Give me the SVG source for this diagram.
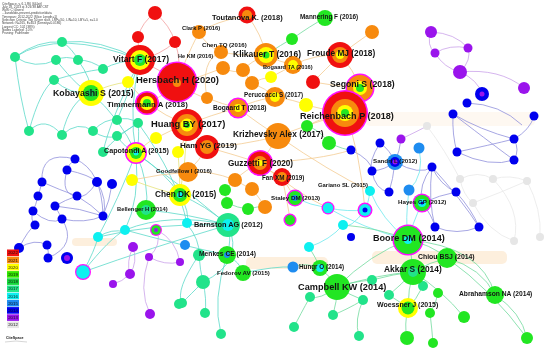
<svg xmlns="http://www.w3.org/2000/svg" width="550" height="353" viewBox="0 0 550 353">
<style>
.e{fill:none;stroke-width:0.8}
.tq{stroke:#5cd9c9}.lv{stroke:#9090dc}.pk{stroke:#f2a0a0}.or{stroke:#f4cc92}.pu{stroke:#caa2ea}.gy{stroke:#e8e8e8}.gn{stroke:#72da9e}.yl{stroke:#e6e27a}.cy{stroke:#6ee8ee}
.R{fill:#f01010}.O{fill:#f78a0e}.Y{fill:#ffff00}.G{fill:#22e622}.S{fill:#22e38a}.C{fill:#0ef0f0}.D{fill:#1e8cf0}.B{fill:#0000ee}.P{fill:#9a14ec}.K{fill:#e6e6e6}.M{fill:#ff10ff}.DG{fill:#14c050}
text{font-family:"Liberation Sans",Arial,sans-serif;font-weight:bold;fill:#141414}
.h{font-weight:normal;font-size:3.2px;fill:#444}
.lg{font-weight:normal;font-size:4.3px;fill:#111;text-anchor:middle}
</style>
<rect width="550" height="353" fill="#fff"/>
<g id="bands" fill="#fbe2c2" opacity="0.55">
<rect x="372" y="251" width="135" height="13" rx="5"/>
<rect x="246" y="257" width="82" height="12" rx="5"/>
<rect x="72" y="238" width="45" height="8" rx="4"/>
<rect x="365" y="112" width="170" height="14" rx="5" opacity="0.4"/>
</g>
<g id="header">
<text class="h" x="2" y="4.5">CiteSpace, v. 6.1.R6 (64-bit)</text>
<text class="h" x="2" y="7.8">July 18, 2023 at 3:26:38 AM CST</text>
<text class="h" x="2" y="11.1">WoS: C:\Users\</text>
<text class="h" x="2" y="14.4">...\landslide-prevent-prediction\data</text>
<text class="h" x="2" y="17.7">Timespan: 2012-2022 (Slice Length=1)</text>
<text class="h" x="2" y="21">Selection Criteria: Top 50 per slice, LRF=3.0, L/N=10, LBY=5, e=1.0</text>
<text class="h" x="2" y="24.3">Network: N=265, E=653 (Density=0.0186)</text>
<text class="h" x="2" y="27.6">Largest CC: 102 (38%)</text>
<text class="h" x="2" y="30.9">Nodes Labeled: 1.0%</text>
<text class="h" x="2" y="34.2">Pruning: Pathfinder</text>
</g>
<g id="connectors">
<path class="e pk" d="M155,13 Q142,22 138,37 M155,13 Q170,25 175,42 M138,37 Q138,50 140,60 M175,42 Q160,55 140,60 M175,42 Q182,62 177,82 M140,60 Q160,70 177,82"/>
<path class="e tq" d="M15,57 Q38,40 62,42 M15,57 Q35,70 56,60 M62,42 Q72,48 78,60 M56,60 Q66,55 78,60 M78,60 Q92,60 103,69 M54,80 Q80,72 103,69 M54,80 Q70,95 91,93 M15,57 Q60,28 140,60 M62,42 Q100,38 140,60 M103,69 Q120,60 140,60 M56,60 Q80,90 91,93 M78,60 Q92,80 91,93 M15,57 Q20,100 29,131 M29,131 Q45,115 62,135 M62,135 Q78,120 93,131 M93,131 Q105,118 117,120 M93,131 Q105,140 117,136 M117,120 Q128,116 138,123 M117,136 Q128,130 138,123 M103,152 Q118,135 138,123 M29,131 Q40,90 54,80 M62,135 Q70,100 91,93 M138,123 Q140,140 136,153 M117,136 Q125,148 136,153 M91,93 Q120,118 136,153 M140,60 Q128,110 136,153 M136,153 Q150,185 146,210 M136,153 Q165,172 180,195 M136,153 Q185,188 228,225 M136,153 Q140,200 125,230 M136,153 Q118,200 98,237 M138,123 Q178,178 187,224 M180,195 Q205,205 228,225 M180,195 Q190,212 187,224 M146,210 Q190,214 228,225 M125,230 Q170,212 228,225 M98,237 Q160,222 228,225 M125,230 Q180,245 227,255 M187,224 Q200,240 199,255 M228,225 Q232,240 227,255 M227,255 Q240,262 243,273 M199,255 Q200,270 203,282 M203,282 Q190,295 182,303 M203,282 Q207,300 205,313 M227,255 Q212,300 221,334 M228,225 Q245,262 203,282 M199,255 Q175,290 182,303 M243,273 Q275,266 293,267 M83,272 Q95,250 98,237 M83,272 Q110,238 125,230 M83,272 Q150,248 228,225 M98,237 Q112,228 125,232 M140,60 Q110,120 103,152 M117,120 Q128,95 140,60"/>
<path class="e lv" d="M75,159 Q68,165 67,170 M67,170 Q90,175 97,182 M67,170 Q60,195 77,196 M42,182 Q60,190 77,196 M42,182 Q40,190 38,196 M38,196 Q36,205 33,211 M77,196 Q65,200 55,206 M55,206 Q60,215 62,219 M77,196 Q92,205 103,216 M97,182 Q108,200 103,216 M112,184 Q110,200 103,216 M55,206 Q80,208 103,216 M62,219 Q85,224 103,216 M33,211 Q50,226 62,219 M75,159 Q102,170 103,216 M33,211 Q30,220 35,225 M19,248 Q35,238 47,245 M19,248 Q28,230 35,225 M47,245 Q49,252 48,258 M62,219 Q78,245 48,258 M75,159 Q40,150 42,182 M97,182 Q85,200 77,196"/>
<path class="e lv" d="M453,114 Q480,130 514,139 M534,116 Q530,130 514,139 M453,114 Q452,135 457,152 M457,152 Q490,145 514,139 M457,152 Q490,168 514,160 M514,139 Q520,150 514,160 M453,114 Q500,150 514,160 M467,103 Q500,104 522,125 M432,167 Q440,185 456,192 M432,167 Q418,185 422,203 M422,203 Q440,195 456,192 M432,167 Q428,200 435,227 M432,167 Q462,200 479,227 M456,192 Q472,210 479,227 M422,203 Q432,215 435,227 M435,227 Q457,236 479,227 M380,143 Q390,150 395,162 M395,162 Q385,170 372,171 M395,162 Q393,180 389,192 M380,143 Q368,162 372,171 M401,139 Q400,150 395,162 M351,150 Q372,160 372,171 M395,162 Q420,176 432,167 M372,171 Q375,190 389,192"/>
<path class="e pu" d="M431,32 Q455,33 468,48 M435,53 Q450,44 468,48 M431,32 Q426,45 435,53 M435,53 Q444,68 460,72 M468,48 Q472,60 460,72 M460,72 Q500,68 524,88 M460,72 Q478,80 482,94 M133,247 Q138,262 130,274 M130,274 Q122,282 113,284 M133,247 Q126,262 130,274 M149,257 Q165,266 180,262 M149,257 Q138,290 150,314 M157,230 Q162,245 149,257 M157,230 Q176,240 180,262 M401,139 Q420,130 427,126"/>
<path class="e gy" d="M460,179 Q478,170 493,179 M493,179 Q510,174 527,181 M460,179 Q463,195 473,203 M473,203 Q502,192 527,181 M493,179 Q522,210 514,241 M527,181 Q542,210 540,237 M473,203 Q488,232 514,241 M427,126 Q445,150 460,179"/>
<path class="e or" d="M199,32 Q215,22 247,15 M247,15 Q262,35 266,55 M199,32 Q205,45 221,52 M221,52 Q240,56 266,55 M266,55 Q280,62 293,65 M266,55 Q250,62 243,70 M223,68 Q235,74 243,70 M243,70 Q248,78 252,83 M252,83 Q262,78 271,77 M271,77 Q285,70 293,65 M293,65 Q315,54 340,55 M313,82 Q325,70 340,55 M340,55 Q360,40 372,32 M340,55 Q354,70 360,88 M313,82 Q335,86 360,88 M275,97 Q295,100 306,105 M306,105 Q325,110 345,113 M360,88 Q356,100 345,113 M275,97 Q265,88 252,83 M238,108 Q255,100 275,97 M207,98 Q222,104 238,108 M187,125 Q210,115 238,108 M177,82 Q195,96 207,98 M177,82 Q200,78 223,68 M187,125 Q195,138 207,147 M207,147 Q240,146 278,136 M278,136 Q310,124 345,113 M238,108 Q260,125 278,136 M278,136 Q270,150 260,163 M260,163 Q270,172 282,177 M260,163 Q245,170 235,180 M235,180 Q245,186 252,189 M252,189 Q261,200 265,207 M282,177 Q290,190 295,198 M188,172 Q200,160 207,147 M188,172 Q210,170 235,180 M207,147 Q235,155 260,163 M345,113 Q325,116 307,126 M147,103 Q165,116 187,125 M177,82 Q165,96 147,103 M128,82 Q140,96 147,103 M156,138 Q170,130 187,125 M178,152 Q186,140 187,125 M132,180 Q160,174 188,172 M260,163 Q320,160 351,150 M278,136 Q330,172 370,191 M221,52 Q200,60 207,98 M199,32 Q185,60 177,82 M345,113 Q360,150 365,210 M260,163 Q300,195 328,208 M282,177 Q288,205 290,220"/>
<path class="e yl" d="M91,93 Q110,84 128,82 M180,195 Q186,160 187,125 M132,180 Q158,190 180,195 M136,153 Q150,140 156,138 M178,152 Q180,175 180,195"/>
<path class="e gn" d="M292,39 Q310,26 325,18 M266,55 Q282,44 292,39 M307,126 Q320,130 329,143 M329,143 Q345,150 351,150 M225,190 Q226,197 227,203 M227,203 Q238,208 248,209 M225,190 Q230,184 235,180 M248,209 Q258,206 265,207"/>
<path class="e cy" d="M419,148 Q425,175 409,190 M409,190 Q405,220 408,240 M370,191 Q368,205 365,210 M328,208 Q348,212 365,210 M295,198 Q310,205 328,208 M343,225 Q330,240 309,247 M365,210 Q350,230 343,225 M370,191 Q382,220 408,240 M328,208 Q362,228 408,240 M422,203 Q412,225 408,240"/>
<path class="e gn" d="M293,267 Q305,262 320,268 M320,268 Q330,276 337,287 M309,247 Q316,258 320,268 M337,287 Q320,300 310,297 M310,297 Q300,315 294,327 M337,287 Q337,302 333,315 M337,287 Q350,295 363,300 M363,300 Q354,320 359,336 M333,315 Q346,310 363,300 M337,287 Q380,274 413,272 M372,280 Q394,274 413,272 M389,295 Q402,284 413,272 M413,272 Q421,280 423,286 M408,240 Q412,256 413,272 M408,240 Q430,244 447,258 M413,272 Q430,262 447,258 M413,272 Q408,290 408,308 M389,295 Q400,302 408,308 M423,286 Q416,300 408,308 M408,308 Q404,325 407,338 M430,313 Q432,330 433,343 M438,293 Q436,305 430,313 M413,272 Q442,290 464,317 M447,258 Q482,268 495,295 M408,240 Q482,246 495,295 M495,295 Q521,312 527,338 M447,258 Q492,290 527,338 M343,225 Q380,228 408,240 M337,287 Q370,254 408,240 M372,280 Q350,282 337,287"/>
</g>
<g id="n_r1"><circle class="R" cx="155" cy="13" r="7"/></g>
<g id="n_r2"><circle class="R" cx="138" cy="37" r="6"/></g>
<g id="n_r3"><circle class="R" cx="175" cy="42" r="6"/></g>
<g id="n_s1"><circle class="S" cx="15" cy="57" r="5"/></g>
<g id="n_s2"><circle class="S" cx="62" cy="42" r="5"/></g>
<g id="n_s3"><circle class="S" cx="56" cy="60" r="5"/></g>
<g id="n_s4"><circle class="S" cx="78" cy="60" r="5"/></g>
<g id="n_s5"><circle class="S" cx="103" cy="69" r="5"/></g>
<g id="n_s6"><circle class="S" cx="54" cy="80" r="5"/></g>
<g id="n_s7"><circle class="S" cx="117" cy="120" r="5"/></g>
<g id="n_s8"><circle class="S" cx="29" cy="131" r="5"/></g>
<g id="n_s9"><circle class="S" cx="62" cy="135" r="5"/></g>
<g id="n_s10"><circle class="S" cx="93" cy="131" r="5"/></g>
<g id="n_s11"><circle class="S" cx="117" cy="136" r="5"/></g>
<g id="n_s12"><circle class="S" cx="138" cy="123" r="5"/></g>
<g id="n_s13"><circle class="S" cx="103" cy="152" r="5"/></g>
<g id="n_y1"><circle class="Y" cx="128" cy="82" r="6"/></g>
<g id="n_y2"><circle class="Y" cx="156" cy="138" r="6"/></g>
<g id="n_y3"><circle class="Y" cx="178" cy="152" r="6"/></g>
<g id="n_y4"><circle class="Y" cx="132" cy="180" r="6"/></g>
<g id="n_o1"><circle class="O" cx="199" cy="32" r="7"/></g>
<g id="n_o2"><circle class="O" cx="221" cy="52" r="7"/></g>
<g id="n_o3"><circle class="O" cx="223" cy="68" r="7"/></g>
<g id="n_o4"><circle class="O" cx="243" cy="70" r="7"/></g>
<g id="n_o5"><circle class="O" cx="252" cy="83" r="7"/></g>
<g id="n_o6"><circle class="O" cx="207" cy="98" r="6"/></g>
<g id="n_o7"><circle class="O" cx="372" cy="32" r="7"/></g>
<g id="n_o8"><circle class="O" cx="235" cy="180" r="7"/></g>
<g id="n_o9"><circle class="O" cx="252" cy="189" r="7"/></g>
<g id="n_o10"><circle class="O" cx="265" cy="207" r="7"/></g>
<g id="n_y5"><circle class="Y" cx="271" cy="77" r="6"/></g>
<g id="n_y6"><circle class="Y" cx="306" cy="105" r="7"/></g>
<g id="n_r4"><circle class="R" cx="313" cy="82" r="7"/></g>
<g id="n_g1"><circle class="G" cx="292" cy="39" r="6"/></g>
<g id="n_g2"><circle class="G" cx="307" cy="126" r="6"/></g>
<g id="n_g3"><circle class="G" cx="329" cy="143" r="7"/></g>
<g id="n_g4"><circle class="G" cx="225" cy="190" r="6"/></g>
<g id="n_g5"><circle class="G" cx="227" cy="203" r="6"/></g>
<g id="n_g6"><circle class="G" cx="248" cy="209" r="6"/></g>
<g id="n_m1"><circle class="M" cx="290" cy="220" r="6.5"/><circle class="G" cx="290" cy="220" r="5"/></g>
<g id="n_m2"><circle class="M" cx="328" cy="208" r="6.5"/><circle class="C" cx="328" cy="208" r="5.2"/></g>
<g id="n_m3"><circle class="M" cx="365" cy="210" r="7.5"/><circle class="C" cx="365" cy="210" r="6"/><circle class="B" cx="365" cy="210" r="2.5"/></g>
<g id="n_c1"><circle class="C" cx="370" cy="191" r="5"/></g>
<g id="n_b1"><circle class="B" cx="351" cy="150" r="4.5"/></g>
<g id="n_b2"><circle class="B" cx="380" cy="143" r="4.5"/></g>
<g id="n_p1"><circle class="P" cx="401" cy="139" r="4.5"/></g>
<g id="n_d1"><circle class="D" cx="419" cy="148" r="5.5"/></g>
<g id="n_b3"><circle class="B" cx="372" cy="171" r="4.5"/></g>
<g id="n_b4"><circle class="B" cx="432" cy="167" r="4.5"/></g>
<g id="n_b5"><circle class="B" cx="456" cy="192" r="4.5"/></g>
<g id="n_b6"><circle class="B" cx="389" cy="192" r="4.5"/></g>
<g id="n_d2"><circle class="D" cx="409" cy="190" r="5.5"/></g>
<g id="n_b7"><circle class="B" cx="435" cy="227" r="4.5"/></g>
<g id="n_b8"><circle class="B" cx="479" cy="227" r="4.5"/></g>
<g id="n_p2"><circle class="P" cx="431" cy="32" r="6"/></g>
<g id="n_p3"><circle class="P" cx="435" cy="53" r="4.5"/></g>
<g id="n_p4"><circle class="P" cx="468" cy="48" r="4.5"/></g>
<g id="n_p5"><circle class="P" cx="460" cy="72" r="7"/></g>
<g id="n_p6"><circle class="P" cx="524" cy="88" r="6"/></g>
<g id="n_bp1"><circle class="B" cx="482" cy="94" r="7"/><circle class="P" cx="482" cy="94" r="2.5"/></g>
<g id="n_b9"><circle class="B" cx="467" cy="103" r="4.5"/></g>
<g id="n_b10"><circle class="B" cx="453" cy="114" r="4.5"/></g>
<g id="n_b11"><circle class="B" cx="534" cy="116" r="4.5"/></g>
<g id="n_b12"><circle class="B" cx="514" cy="139" r="4.5"/></g>
<g id="n_b13"><circle class="B" cx="457" cy="152" r="4.5"/></g>
<g id="n_b14"><circle class="B" cx="514" cy="160" r="4.5"/></g>
<g id="n_k1"><circle class="K" cx="427" cy="126" r="4"/></g>
<g id="n_k2"><circle class="K" cx="460" cy="179" r="4"/></g>
<g id="n_k3"><circle class="K" cx="493" cy="179" r="4"/></g>
<g id="n_k4"><circle class="K" cx="527" cy="181" r="4"/></g>
<g id="n_k5"><circle class="K" cx="473" cy="203" r="4"/></g>
<g id="n_k6"><circle class="K" cx="514" cy="241" r="4"/></g>
<g id="n_k7"><circle class="K" cx="540" cy="237" r="4"/></g>
<g id="n_lb1"><circle class="B" cx="75" cy="159" r="4.5"/></g>
<g id="n_lb2"><circle class="B" cx="67" cy="170" r="4.5"/></g>
<g id="n_lb3"><circle class="B" cx="42" cy="182" r="4.5"/></g>
<g id="n_lb4"><circle class="B" cx="97" cy="182" r="5"/></g>
<g id="n_lb5"><circle class="B" cx="112" cy="184" r="5"/></g>
<g id="n_lb6"><circle class="B" cx="38" cy="196" r="4.5"/></g>
<g id="n_lb7"><circle class="B" cx="77" cy="196" r="4.5"/></g>
<g id="n_lb8"><circle class="B" cx="55" cy="206" r="4.5"/></g>
<g id="n_lb9"><circle class="B" cx="33" cy="211" r="4.5"/></g>
<g id="n_lb10"><circle class="B" cx="62" cy="219" r="4.5"/></g>
<g id="n_lb11"><circle class="B" cx="103" cy="216" r="4.5"/></g>
<g id="n_lb12"><circle class="B" cx="35" cy="225" r="4.5"/></g>
<g id="n_lb13"><circle class="B" cx="19" cy="248" r="5"/></g>
<g id="n_lb14"><circle class="B" cx="47" cy="245" r="4.5"/></g>
<g id="n_lb15"><circle class="B" cx="48" cy="258" r="4.5"/></g>
<g id="n_lb16"><circle class="B" cx="67" cy="258" r="6"/><circle class="P" cx="67" cy="258" r="3"/></g>
<g id="n_c2"><circle class="C" cx="187" cy="223" r="5"/></g>
<g id="n_c3"><circle class="C" cx="125" cy="230" r="5"/></g>
<g id="n_m4"><circle class="M" cx="156" cy="230" r="6"/><circle class="G" cx="156" cy="230" r="4.8"/><circle class="P" cx="156" cy="230" r="2"/></g>
<g id="n_c4"><circle class="C" cx="98" cy="237" r="5"/></g>
<g id="n_m5"><circle class="M" cx="83" cy="272" r="8"/><circle class="C" cx="83" cy="272" r="6.8"/></g>
<g id="n_d3"><circle class="D" cx="185" cy="245" r="5"/></g>
<g id="n_pp1"><circle class="P" cx="133" cy="247" r="5"/></g>
<g id="n_pp2"><circle class="P" cx="149" cy="257" r="4"/></g>
<g id="n_pp3"><circle class="P" cx="180" cy="262" r="4"/></g>
<g id="n_pp4"><circle class="P" cx="130" cy="274" r="5"/></g>
<g id="n_pp5"><circle class="P" cx="113" cy="284" r="4"/></g>
<g id="n_pp6"><circle class="P" cx="150" cy="314" r="5"/></g>
<g id="n_s14"><circle class="S" cx="179" cy="304" r="5"/></g>
<g id="n_s15"><circle class="S" cx="199" cy="255" r="6"/></g>
<g id="n_s16"><circle class="S" cx="203" cy="282" r="7"/></g>
<g id="n_s17"><circle class="S" cx="182" cy="303" r="5"/></g>
<g id="n_s18"><circle class="S" cx="205" cy="313" r="5"/></g>
<g id="n_s19"><circle class="S" cx="221" cy="334" r="5"/></g>
<g id="n_gc1"><circle class="G" cx="320" cy="268" r="8"/><circle class="C" cx="320" cy="268" r="4"/></g>
<g id="n_c5"><circle class="C" cx="309" cy="247" r="5"/></g>
<g id="n_c6"><circle class="C" cx="343" cy="225" r="5"/></g>
<g id="n_b15"><circle class="B" cx="351" cy="237" r="4"/></g>
<g id="n_s20"><circle class="S" cx="310" cy="297" r="5"/></g>
<g id="n_s21"><circle class="S" cx="294" cy="327" r="5"/></g>
<g id="n_s22"><circle class="S" cx="333" cy="315" r="5"/></g>
<g id="n_s23"><circle class="S" cx="363" cy="300" r="5"/></g>
<g id="n_s24"><circle class="S" cx="359" cy="336" r="5"/></g>
<g id="n_s25"><circle class="S" cx="423" cy="286" r="5"/></g>
<g id="n_s26"><circle class="S" cx="389" cy="295" r="5"/></g>
<g id="n_s27"><circle class="S" cx="372" cy="280" r="5"/></g>
<g id="n_g7"><circle class="G" cx="438" cy="293" r="5"/></g>
<g id="n_g8"><circle class="G" cx="430" cy="313" r="5"/></g>
<g id="n_g9"><circle class="G" cx="464" cy="317" r="6"/></g>
<g id="n_g10"><circle class="G" cx="407" cy="338" r="7"/></g>
<g id="n_g11"><circle class="G" cx="433" cy="343" r="5"/></g>
<g id="n_g12"><circle class="G" cx="527" cy="338" r="6"/></g>
<g id="vitart"><circle class="R" cx="140" cy="60" r="15"/><circle class="Y" cx="140" cy="60" r="10"/><circle class="G" cx="140" cy="60" r="6"/><circle class="S" cx="140" cy="60" r="3"/><text x="113" y="62" font-size="8.5">Vitart F (2017)</text></g>
<g id="hersbach"><circle class="M" cx="177" cy="82" r="20.5"/><circle class="R" cx="177" cy="82" r="19"/><circle class="O" cx="177" cy="83" r="4"/><text x="136" y="83" font-size="9.5">Hersbach H (2020)</text></g>
<g id="kobayashi"><circle class="Y" cx="91" cy="93" r="13"/><circle class="G" cx="91" cy="93" r="8"/><circle class="DG" cx="91" cy="93" r="4"/><text x="53" y="96" font-size="8.8">Kobayashi S (2015)</text></g>
<g id="timmermann"><circle class="M" cx="147" cy="103" r="12"/><circle class="R" cx="147" cy="103" r="10.5"/><circle class="Y" cx="147" cy="103" r="7"/><circle class="G" cx="147" cy="103" r="4"/><text x="107" y="107" font-size="7.8">Timmermann A (2018)</text></g>
<g id="huang"><circle class="R" cx="187" cy="125" r="16"/><circle class="O" cx="187" cy="125" r="11"/><circle class="Y" cx="187" cy="125" r="6.5"/><circle class="G" cx="187" cy="125" r="3"/><text x="151" y="127" font-size="9.4">Huang BY (2017)</text></g>
<g id="ham"><circle class="R" cx="207" cy="147" r="12"/><circle class="O" cx="207" cy="147" r="7"/><text x="180" y="148" font-size="8.1">Ham YG (2019)</text></g>
<g id="capotondi"><circle class="M" cx="136" cy="153" r="11"/><circle class="Y" cx="136" cy="153" r="9.5"/><circle class="G" cx="136" cy="153" r="6"/><circle class="C" cx="136" cy="153" r="2.5"/><text x="104" y="153" font-size="7.2">Capotondi A (2015)</text></g>
<g id="goodfellow"><circle class="O" cx="188" cy="172" r="10"/><text x="156" y="173" font-size="6.1">Goodfellow I (2016)</text></g>
<g id="chendk"><circle class="Y" cx="180" cy="195" r="11"/><circle class="G" cx="180" cy="195" r="7"/><circle class="C" cx="180" cy="195" r="3"/><text x="155" y="197" font-size="8.3">Chen DK (2015)</text></g>
<g id="toutanova"><circle class="R" cx="247" cy="15" r="8.5"/><circle class="O" cx="247" cy="15" r="5"/><text x="212" y="20" font-size="7.5">Toutanova K. (2018)</text></g>
<g id="mannering"><circle class="G" cx="325" cy="18" r="8"/><text x="300" y="19" font-size="6.4">Mannering F (2016)</text></g>
<g id="clark"><text x="182" y="30" font-size="5.8">Clark P (2016)</text></g>
<g id="chentq"><text x="202" y="47" font-size="6.1">Chen TQ (2016)</text></g>
<g id="hekm"><text x="178" y="58" font-size="5.6">He KM (2016)</text></g>
<g id="klikauer"><circle class="O" cx="266" cy="55" r="12"/><circle class="Y" cx="266" cy="55" r="8"/><circle class="G" cx="266" cy="55" r="3.5"/><text x="233" y="57" font-size="8.5">Klikauer T (2016)</text></g>
<g id="froude"><circle class="R" cx="340" cy="55" r="13"/><circle class="O" cx="340" cy="55" r="8"/><circle class="Y" cx="340" cy="55" r="4"/><text x="307" y="56" font-size="8.3">Froude MJ (2018)</text></g>
<g id="bogaardta"><circle class="O" cx="293" cy="65" r="9"/><circle class="Y" cx="293" cy="65" r="5"/><text x="263" y="69" font-size="5.7">Bogaard TA (2016)</text></g>
<g id="segoni"><circle class="M" cx="360" cy="88" r="14.5"/><circle class="O" cx="360" cy="88" r="13"/><circle class="Y" cx="360" cy="88" r="7"/><circle class="G" cx="360" cy="88" r="4"/><text x="330" y="87" font-size="8.7">Segoni S (2018)</text></g>
<g id="peruccacci"><circle class="O" cx="275" cy="97" r="10"/><circle class="Y" cx="275" cy="97" r="5"/><text x="244" y="97" font-size="6.3">Peruccacci S (2017)</text></g>
<g id="bogaardt"><circle class="M" cx="238" cy="108" r="10.5"/><circle class="O" cx="238" cy="108" r="9"/><circle class="Y" cx="238" cy="108" r="4"/><text x="213" y="110" font-size="6.6">Bogaard T (2018)</text></g>
<g id="reichenbach"><circle class="M" cx="345" cy="113" r="23"/><circle class="R" cx="345" cy="113" r="21.5"/><circle class="O" cx="345" cy="113" r="14"/><circle class="Y" cx="345" cy="113" r="8"/><circle class="G" cx="345" cy="113" r="4"/><text x="300" y="119" font-size="9.1">Reichenbach P (2018)</text></g>
<g id="krizhevsky"><circle class="O" cx="278" cy="136" r="13"/><text x="233" y="137" font-size="8.4">Krizhevsky Alex (2017)</text></g>
<g id="guzzetti"><circle class="M" cx="260" cy="163" r="13"/><circle class="R" cx="260" cy="163" r="11.5"/><circle class="O" cx="260" cy="163" r="7"/><circle class="Y" cx="260" cy="163" r="3"/><text x="228" y="166" font-size="8.2">Guzzetti F (2020)</text></g>
<g id="fanxm"><circle class="R" cx="282" cy="177" r="9"/><circle class="O" cx="282" cy="177" r="5"/><text x="262" y="180" font-size="6.3">Fan XM (2019)</text></g>
<g id="staley"><circle class="M" cx="295" cy="198" r="8.5"/><circle class="G" cx="295" cy="198" r="7"/><circle class="D" cx="295" cy="198" r="3"/><text x="271" y="200" font-size="6.2">Staley DM (2013)</text></g>
<g id="gariano"><text x="318" y="187" font-size="5.9">Gariano SL (2015)</text></g>
<g id="sandri"><circle class="D" cx="395" cy="162" r="8"/><circle class="B" cx="395" cy="162" r="5"/><circle class="P" cx="395" cy="162" r="2.5"/><text x="373" y="163" font-size="6.2">Sandri L (2012)</text></g>
<g id="hayes"><circle class="M" cx="422" cy="203" r="9.5"/><circle class="G" cx="422" cy="203" r="8"/><circle class="C" cx="422" cy="203" r="4"/><circle class="B" cx="422" cy="203" r="1.5"/><text x="398" y="204" font-size="6.2">Hayes GP (2012)</text></g>
<g id="bellenger"><circle class="G" cx="146" cy="210" r="10"/><circle class="S" cx="146" cy="210" r="5"/><text x="117" y="211" font-size="5.8">Bellenger H (2014)</text></g>
<g id="barnston"><circle class="S" cx="228" cy="225" r="12"/><circle class="C" cx="228" cy="225" r="6"/><text x="194" y="227" font-size="7.4">Barnston AG (2012)</text></g>
<g id="menkes"><circle class="G" cx="227" cy="255" r="9"/><circle class="D" cx="227" cy="255" r="3"/><text x="199" y="256" font-size="6.7">Menkes CE (2014)</text></g>
<g id="fedorov"><circle class="G" cx="243" cy="273" r="8"/><text x="217" y="275" font-size="6.1">Fedorov AV (2015)</text></g>
<g id="hungr"><circle class="D" cx="293" cy="267" r="5.5"/><text x="299" y="269" font-size="6.3">Hungr O (2014)</text></g>
<g id="campbell"><circle class="G" cx="337" cy="287" r="13"/><text x="298" y="290" font-size="9.2">Campbell KW (2014)</text></g>
<g id="boore"><circle class="M" cx="408" cy="240" r="15.5"/><circle class="G" cx="408" cy="240" r="14"/><circle class="C" cx="408" cy="240" r="4"/><text x="373" y="241" font-size="9.1">Boore DM (2014)</text></g>
<g id="chiou"><circle class="G" cx="447" cy="258" r="10"/><text x="418" y="259" font-size="6.9">Chiou BSJ (2014)</text></g>
<g id="akkar"><circle class="G" cx="413" cy="272" r="13"/><circle class="S" cx="413" cy="272" r="5"/><text x="384" y="272" font-size="8.4">Akkar S (2014)</text></g>
<g id="woessner"><circle class="Y" cx="408" cy="308" r="10"/><circle class="G" cx="408" cy="308" r="6.5"/><text x="377" y="307" font-size="7">Woessner J (2015)</text></g>
<g id="abrahamson"><circle class="G" cx="495" cy="295" r="9"/><text x="459" y="296" font-size="6.7">Abrahamson NA (2014)</text></g>
<g id="legend">
<rect x="7" y="249.5" width="12" height="6.6" fill="#f01010"/><text class="lg" x="13" y="254.4">2022</text>
<rect x="7" y="256.7" width="12" height="6.6" fill="#f78a0e"/><text class="lg" x="13" y="261.6">2021</text>
<rect x="7" y="263.9" width="12" height="6.6" fill="#ffff00"/><text class="lg" x="13" y="268.8">2020</text>
<rect x="7" y="271.1" width="12" height="6.6" fill="#33e800"/><text class="lg" x="13" y="276">2019</text>
<rect x="7" y="278.3" width="12" height="6.6" fill="#16d83c"/><text class="lg" x="13" y="283.2">2018</text>
<rect x="7" y="285.5" width="12" height="6.6" fill="#22e88a"/><text class="lg" x="13" y="290.4">2017</text>
<rect x="7" y="292.7" width="12" height="6.6" fill="#0ef0f0"/><text class="lg" x="13" y="297.6">2016</text>
<rect x="7" y="299.9" width="12" height="6.6" fill="#1e8cf0"/><text class="lg" x="13" y="304.8">2015</text>
<rect x="7" y="307.1" width="12" height="6.6" fill="#0000ee"/><text class="lg" x="13" y="312">2014</text>
<rect x="7" y="314.3" width="12" height="6.6" fill="#9a14ec"/><text class="lg" x="13" y="319.2">2013</text>
<rect x="7" y="321.5" width="12" height="6.6" fill="#e6e6e6"/><text class="lg" x="13" y="326.4">2012</text>
</g>
<g id="logo"><text x="6" y="339" font-size="3.6" font-weight="normal" fill="#999">CiteSpace</text><path d="M5,342 Q16,340 27,342" fill="none" stroke="#bbb" stroke-width="0.6"/></g>
</svg>
